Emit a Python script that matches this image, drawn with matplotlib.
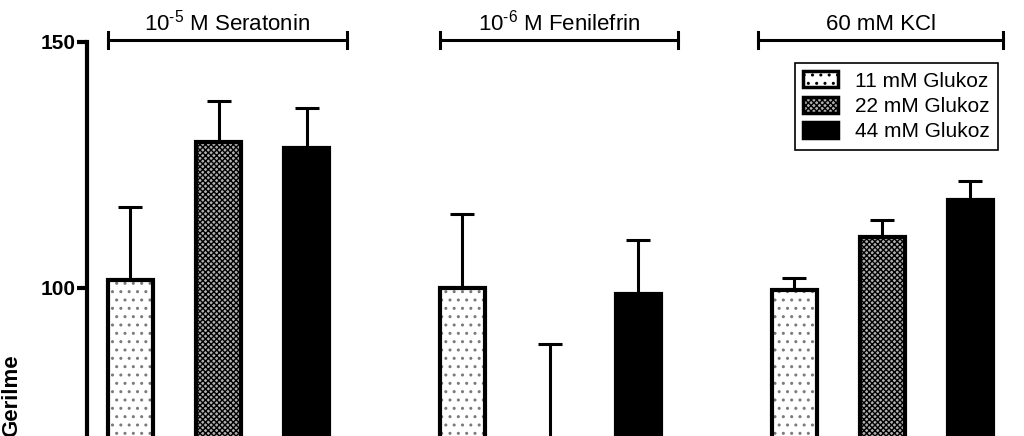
import matplotlib
matplotlib.use("Agg")
import matplotlib.pyplot as plt
import matplotlib.patches as mpatches
import numpy as np

plt.rcParams["font.family"] = ["Liberation Sans", "DejaVu Sans"]
plt.rcParams["mathtext.fontset"] = "custom"
plt.rcParams["mathtext.rm"] = "Liberation Sans"
plt.rcParams["mathtext.it"] = "Liberation Sans:italic"
plt.rcParams["mathtext.bf"] = "Liberation Sans:bold"
plt.rcParams["hatch.linewidth"] = 1.0

# data
groups = ["10$^{\\mathrm{\u2010}5}$ M Seratonin",
          "10$^{\\mathrm{\u2010}6}$ M Fenilefrin", "60 mM KCl"]
series = ["11 mM Glukoz", "22 mM Glukoz", "44 mM Glukoz"]
means_11 = [101.6, 100.0, 99.6]
means_22 = [129.7, 66.0, 110.4]
means_44 = [128.5, 98.8, 117.9]
err_11 = [14.9, 15.0, 2.4]
err_22 = [8.3, 22.6, 3.4]
err_44 = [8.1, 11.0, 3.8]
y_ticks = [100, 150]

# styles
faces = ["white", "#b0b0b0", "black"]
hatches = ["..", "xxxxxx", None]
hatch_cols = ["#7a7a7a", "black", "black"]
group_step = 3.77
bar_w = 0.51

fig = plt.figure(figsize=(10.24, 4.36), dpi=100)
ax = fig.add_axes([87 / 1024, 0.0, 1 - 87 / 1024, 1 - 42 / 436])

all_means = [means_11, means_22, means_44]
all_errs = [err_11, err_22, err_44]
gx = np.arange(len(groups)) * group_step

for i, (m, e) in enumerate(zip(all_means, all_errs)):
    x = gx + i
    ax.errorbar(x, m, yerr=[np.zeros(len(m)), e], fmt="none", ecolor="black",
                elinewidth=2.2, capsize=8.6, capthick=2.2, zorder=1)
    # hatch layer (hatch takes the edge colour), then the black outline
    ax.bar(x, m, width=bar_w, color=faces[i], edgecolor=hatch_cols[i],
           linewidth=0, hatch=hatches[i], zorder=2)
    ax.bar(x, m, width=bar_w, color="none", edgecolor="black",
           linewidth=3, zorder=3)

handles = [mpatches.Patch(facecolor=faces[i], edgecolor="black", linewidth=2.5,
                          hatch=hatches[i], label=series[i]) for i in range(3)]

# brackets with group names above the plot
right_pad = [0.2, 0.2, 0.12]
left_pad = [0.0, 0.0, 0.16]
for k, name in enumerate(groups):
    x0 = gx[k] - bar_w / 2 - left_pad[k]
    x1 = gx[k] + 2 + bar_w / 2 + right_pad[k]
    yb = 150.4
    ax.plot([x0, x1], [yb, yb], color="black", lw=2.2, clip_on=False)
    ax.plot([x0, x0], [yb - 1.6, yb + 1.6], color="black", lw=2.2, clip_on=False)
    ax.plot([x1, x1], [yb - 1.6, yb + 1.6], color="black", lw=2.2, clip_on=False)
    ax.text((x0 + x1) / 2, yb + 1.0, name, ha="center", va="bottom",
            fontsize=16)

ax.set_xlim(-0.494, 10.15)
ax.set_ylim(69.9, 150)
ax.set_yticks(y_ticks)
ax.set_yticklabels([str(t) for t in y_ticks], fontweight="bold", fontsize=15)
ax.tick_params(axis="y", length=7, width=3, pad=1)
ax.set_xticks([])
for s in ["top", "right", "bottom"]:
    ax.spines[s].set_visible(False)
ax.spines["left"].set_linewidth(3)

fig.text(12 / 1024, 1 - 354 / 436, "Gerilme", rotation=90, ha="center",
         va="top", fontweight="bold", fontsize=16)

leg = ax.legend(handles=handles, loc="upper right",
                bbox_to_anchor=(998 / 1024, 1 - 63 / 436),
                bbox_transform=fig.transFigure, borderaxespad=0,
                fancybox=False, framealpha=1, edgecolor="black",
                fontsize=15, handlelength=1.7, handleheight=0.8,
                handletextpad=0.8, labelspacing=0.3, borderpad=0.4)
leg.get_frame().set_linewidth(1.2)

fig.savefig("out.png", dpi=100)
